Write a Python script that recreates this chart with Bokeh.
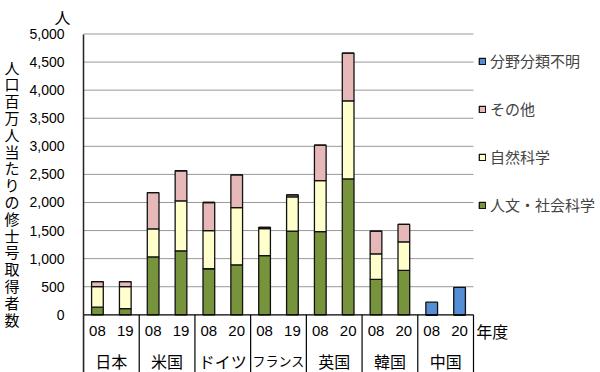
from bokeh.plotting import figure
from bokeh.models import (ColumnDataSource, Range1d, FixedTicker, NumeralTickFormatter,
                          Legend, LegendItem, Title)
from bokeh.core.properties import value
from bokeh.embed import file_html
from bokeh.resources import INLINE

countries = ["日本", "米国", "ドイツ", "フランス", "英国", "韓国", "中国"]
years = ["08", "19", "08", "19", "08", "20", "08", "19", "08", "20", "08", "20", "08", "20"]
humanities = [135, 110, 1030, 1140, 820, 890, 1055, 1490, 1480, 2420, 630, 790, 0, 0]
science = [365, 390, 500, 890, 680, 1020, 480, 610, 910, 1390, 455, 510, 0, 0]
other = [90, 90, 645, 535, 500, 580, 20, 35, 630, 850, 405, 310, 0, 0]
unknown = [0, 0, 0, 0, 0, 0, 0, 0, 0, 0, 0, 0, 225, 490]
series = ["人文・社会科学", "自然科学", "その他", "分野分類不明"]
colors = ["#77933C", "#FFFFCC", "#E6B9B8", "#558ED5"]
y_ticks = list(range(0, 5001, 500))
y_title = "人口百万人当たりの修士号取得者数"
y_unit = "人"
x_unit = "年度"

JP = "Noto Sans CJK JP"
NUM = "Liberation Sans"

n = len(years)
xs = [i + 0.5 for i in range(n)]
src = ColumnDataSource(dict(x=xs, h=humanities, s=science, o=other, u=unknown))

W, H = 600, 372
LEFT, TOP = 83, 30
slot_px = 390.0 / n
px_per_unit = 280.8 / 5000
zero_px = 314.3
X_MAX = (W - LEFT) / slot_px
Y_MAX = 5000 + (33.5 - TOP) / px_per_unit
Y_MIN = -(H - zero_px) / px_per_unit

p = figure(width=W, height=H, output_backend="svg", toolbar_location=None,
           x_range=Range1d(0, X_MAX), y_range=Range1d(Y_MIN, Y_MAX),
           min_border_left=LEFT, min_border_right=0, min_border_top=TOP, min_border_bottom=0)
p.outline_line_color = None
p.xaxis.visible = False
p.xgrid.visible = False
p.ygrid.visible = False

# gridlines over the bar area
gy = [t for t in y_ticks if t > 0]
p.segment(x0=[0] * len(gy), x1=[n] * len(gy), y0=gy, y1=gy, line_color="#999999", line_width=1)

renderers = p.vbar_stack(["h", "s", "o", "u"], x="x", width=0.42, source=src,
                         fill_color=colors, line_color="#111111", line_width=1.3)

ya = p.yaxis[0]
ya.ticker = FixedTicker(ticks=y_ticks)
ya.formatter = NumeralTickFormatter(format="0,0")
ya.bounds = (Y_MIN, 5000)
ya.axis_line_color = "#222222"
ya.axis_line_width = 1.5
ya.major_tick_out = 0
ya.major_tick_in = 0
ya.minor_tick_line_color = None
ya.major_label_standoff = 19
ya.major_label_text_font = NUM
ya.major_label_text_font_size = "14px"
ya.major_label_text_color = "#000000"
ya.axis_label = "\n".join(y_title) + "\n "
ya.axis_label_orientation = "horizontal"
ya.axis_label_standoff = 7
ya.axis_label_text_font = JP
ya.axis_label_text_font_size = "15px"
ya.axis_label_text_font_style = "normal"
ya.axis_label_text_line_height = 0.8
ya.axis_label_text_color = "#000000"

# category area
p.segment(x0=[0], x1=[n], y0=[0], y1=[0], line_color="#000000", line_width=1.3)
sep_x = [2 * k for k in range(len(countries) + 1)]
p.segment(x0=sep_x, x1=sep_x, y0=[0] * len(sep_x), y1=[Y_MIN] * len(sep_x),
          line_color="#000000", line_width=1.2)
p.text(x=xs, y=[-280] * n, text=years, text_align="center", text_baseline="middle",
       text_font=value(NUM), text_font_size="15px", text_color="#000000")
csrc = ColumnDataSource(dict(
    x=[2 * k + 1 for k in range(len(countries))], y=[-815] * len(countries), t=countries,
    fs=["13px" if len(c) > 3 else "16px" for c in countries]))
p.text(x="x", y="y", text="t", source=csrc, text_align="center", text_baseline="middle",
       text_font=value(JP), text_font_size="fs", text_color="#000000")
p.text(x=[n + 0.1], y=[-280], text=[x_unit], text_align="left", text_baseline="middle",
       text_font=value(JP), text_font_size="16px", text_color="#000000")

p.add_layout(Title(text=y_unit, align="left", offset=-29, standoff=3,
                   text_font=JP, text_font_size="16px", text_font_style="normal",
                   text_color="#000000"), "above")

items = [LegendItem(label=series[k], renderers=[renderers[k]]) for k in [3, 2, 1, 0]]
legend = Legend(items=items, location=(395, 157), orientation="vertical",
                glyph_width=8, glyph_height=8, label_height=20, spacing=27,
                label_standoff=4, padding=0, margin=0,
                label_text_font=JP, label_text_font_size="15px",
                background_fill_alpha=0, border_line_color=None)
p.add_layout(legend)

open("out.html", "w").write(file_html(p, INLINE))
